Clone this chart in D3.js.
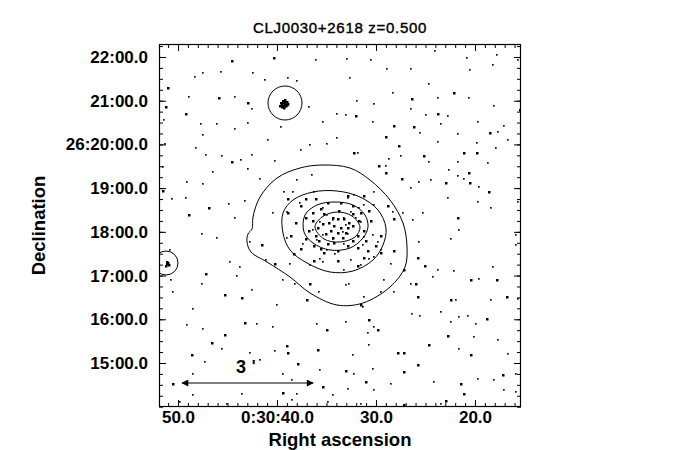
<!DOCTYPE html>
<html>
<head>
<meta charset="utf-8">
<script src="https://cdn.jsdelivr.net/npm/d3@7"></script>
<style>
  body { margin: 0; background: #fff; }
  text { font-family: "Liberation Sans", Arial, Helvetica, sans-serif; }
</style>
</head>
<body>
<div id="chart"></div>
<script>
// axis ticks: RA in seconds of 0h30m, Dec in arcmin of +26 deg
var raTicks = [50, 40, 30, 20];
var raTickLabels = ["50.0", "0:30:40.0", "30.0", "20.0"];
var decTicks = [22, 21, 20, 19, 18, 17, 16, 15];
var decTickLabels = ["22:00.0", "21:00.0", "26:20:00.0", "19:00.0", "18:00.0", "17:00.0", "16:00.0", "15:00.0"];
var raRange = [51.92, 15.35];
var decRange = [13.993, 22.297];

// photon image, in image pixels (362 x 363 grid)
var imageSize = [362, 363];
var photonsBright = [
  [72,16],[8,43],[6,62],[26,69],[59,53],[88,58],[49,163],[29,170],[3,146],[72,117],[114,13],
  [294,48],[252,54],[360,65],[196,71],[278,69],[234,81],[254,82],[226,92],[330,88],[239,101],
  [194,108],[264,111],[304,108],[317,108],[219,121],[226,128],[242,134],[309,128],[286,138],
  [310,138],[329,147],[298,173],
  [102,200],[115,219],[46,229],[65,250],[82,253],[150,239],[147,255],[85,278],[65,290],[167,285],
  [52,298],[127,301],[128,308],[32,310],[158,305],[138,319],[13,339],[163,342],[123,348],
  [234,206],[258,213],[265,221],[244,225],[311,235],[337,235],[256,239],[258,252],[291,255],
  [347,252],[201,260],[327,274],[209,275],[218,285],[288,291],[269,300],[238,308],[244,308],
  [311,310],[258,320],[186,326],[244,327],[343,330],[206,337],[301,339],[304,349],[286,356],[244,360]
];
// the two point sources (bright blobs)
var photonsSource = [
  [123,58],[125,59],[124,61],[127,57],[122,60],[126,61],[121,58],[123,56],[125,57],[127,60],
  [124,63],[122,62],[128,59],[120,61],[125,55],
  [7,219],[8,218],[6,221],[9,220],[7,217]
];
var photonsCore = [
  [181,158],[193,161],[161,164],[153,168],[173,173],[178,174],[184,174],[189,178],[169,178],
  [163,179],[158,183],[174,181],[181,183],[188,183],[193,181],[171,186],[178,188],[186,188],
  [166,189],[156,191],[149,186],[173,193],[183,193],[198,191],[204,186],[206,196],[159,196],
  [168,199],[146,194],[154,201],[188,201],[198,203],[178,206],[164,208],[141,204],[216,201],
  [221,191],[211,176],[201,168],[209,166],[168,158],[146,173],[136,178],[131,191],[134,209],
  [154,216],[204,213],[221,208],[178,216],[198,221],[128,154],[146,154],[204,151],[228,161],
  [234,174],[128,168],[141,161],[156,154],[188,151],[164,169],[193,169],[179,166],[199,176],
  [153,176],[174,198],[193,196],[161,204],[208,206]
];
var photonsFaint = [
  [156,15],[43,28],[61,27],[35,32],[93,28],[105,35],[128,33],[137,36],[29,52],[75,52],[92,64],
  [149,62],[177,69],[4,75],[41,79],[57,79],[88,78],[121,82],[163,77],[75,84],[43,90],[108,95],
  [5,99],[150,100],[167,99],[177,93],[36,103],[46,110],[92,110],[141,105],[62,111],[115,116],
  [81,115],[3,122],[53,127],[88,124],[100,134],[137,135],[152,130],[27,137],[43,139],[12,154],
  [26,153],[69,159],[85,156],[75,173],[124,147],[133,147],[154,147],[140,158],[163,163],
  [167,170],[173,175],[160,177],[113,168],[127,167],
  [275,6],[307,13],[337,10],[187,14],[211,15],[227,24],[251,24],[310,25],[333,20],[358,15],
  [190,33],[269,39],[233,48],[278,53],[309,53],[214,59],[197,56],[251,64],[334,61],[186,70],
  [266,70],[288,71],[213,77],[281,79],[318,77],[344,81],[260,88],[298,89],[338,87],[278,97],
  [317,98],[348,95],[198,108],[241,111],[336,103],[229,114],[269,117],[226,121],[298,117],
  [328,118],[271,135],[289,125],[298,131],[304,134],[259,137],[319,142],[214,147],[251,143],
  [288,153],[318,157],[331,163],[253,175],[263,168],[243,168],[358,157],[233,167],[214,160],
  [188,153],[194,150],[199,163],[191,167],[184,173],[204,160],[196,173],[186,180],[201,177],
  [42,189],[57,193],[90,197],[10,205],[70,217],[80,222],[106,215],[127,193],[160,214],[11,235],
  [77,231],[42,239],[13,247],[92,245],[123,235],[135,239],[159,247],[33,264],[117,260],[27,280],
  [43,284],[97,279],[113,282],[157,279],[62,304],[90,308],[115,306],[45,317],[100,315],
  [123,329],[160,325],[33,329],[132,335],[82,349],[132,355],[137,349],[173,350],[20,357],
  [33,350],[67,359],[168,357],[153,185],[163,190],[173,194],[157,195],[167,205],[143,199],
  [175,209],[163,217],[130,219],[150,220],
  [259,197],[291,194],[299,185],[356,190],[356,200],[278,225],[333,222],[294,226],[319,234],
  [273,232],[251,239],[296,255],[331,255],[358,254],[234,247],[299,272],[308,271],[316,279],
  [291,277],[260,271],[252,269],[281,267],[214,282],[208,288],[186,277],[314,292],[338,295],
  [299,304],[209,300],[348,309],[193,310],[194,329],[213,324],[356,329],[231,339],[274,337],
  [318,334],[334,335],[188,344],[214,345],[344,345],[356,347],[281,359],[201,359],[183,187],
  [188,189],[204,192],[213,190],[184,199],[203,200],[218,197],[221,205],[191,215],[209,214],
  [184,225],[201,220],[214,212],[186,240],[189,239],[204,252],[203,262],[224,235],[231,219],[221,247]
];

// smoothed surface-brightness contours around the cluster, image pixels
var contourOuter = [[164,121],[191,124],[211,136],[231,156],[244,179],[248,203],[246,223],[231,243],[204,259],[178,261],[151,249],[131,233],[108,218],[92,208],[88,198],[89,190],[93,185],[94,173],[101,153],[118,134],[141,124]];
var contourMid = [[124,169],[134,156],[154,148],[178,147],[201,153],[219,166],[227,184],[224,201],[214,216],[194,227],[171,228],[148,219],[131,206],[124,189]];
var contourInner = [[146,171],[158,161],[176,158],[194,161],[206,171],[209,183],[204,194],[191,204],[171,206],[154,199],[145,188]];
var contourCore = [[156,183],[163,173],[178,168],[193,172],[201,183],[196,193],[181,198],[165,195]];
var contours = [contourOuter, contourMid, contourInner, contourCore];

// point sources with their circles: [x, y, radius] in image pixels
var pointSources = [[126,59,17], [7,219,12]];

var scaleBarStart = [23, 339];
var scaleBarArcmin = 3;

var title = "CLJ0030+2618 z=0.500";

function draw() {
  var width = 680, height = 450;
  var fLeft = 159, fTop = 44, fRight = 521, fBottom = 407;

  var svg = d3.select("#chart").append("svg")
    .attr("width", width)
    .attr("height", height);

  var x = d3.scaleLinear().domain(raRange).range([fLeft, fRight]);
  var y = d3.scaleLinear().domain(decRange).range([fBottom, fTop]);
  var imgX = d3.scaleLinear().domain([0, imageSize[0]]).range([fLeft, fRight]);
  var imgY = d3.scaleLinear().domain([0, imageSize[1]]).range([fTop, fBottom]);

  var defs = svg.append("defs");
  defs.append("clipPath").attr("id", "frame")
    .append("rect")
    .attr("x", fLeft).attr("y", fTop)
    .attr("width", fRight - fLeft).attr("height", fBottom - fTop);

  var img = svg.append("g").attr("clip-path", "url(#frame)");

  img.selectAll("rect.faint")
    .data(photonsFaint)
    .enter().append("rect")
    .attr("class", "faint")
    .attr("x", function (d) { return imgX(d[0]); })
    .attr("y", function (d) { return imgY(d[1]); })
    .attr("width", 1.7).attr("height", 1.7)
    .attr("fill", "#111");

  img.selectAll("rect.bright")
    .data(photonsBright.concat(photonsCore, photonsSource))
    .enter().append("rect")
    .attr("class", "bright")
    .attr("x", function (d) { return imgX(d[0]); })
    .attr("y", function (d) { return imgY(d[1]); })
    .attr("width", 2.5).attr("height", 2.5)
    .attr("fill", "#000");

  var line = d3.line()
    .x(function (d) { return imgX(d[0]); })
    .y(function (d) { return imgY(d[1]); })
    .curve(d3.curveCatmullRomClosed);

  img.selectAll("path.contour")
    .data(contours)
    .enter().append("path")
    .attr("class", "contour")
    .attr("d", line)
    .attr("fill", "none")
    .attr("stroke", "#000")
    .attr("stroke-width", 1);

  img.selectAll("circle.src")
    .data(pointSources)
    .enter().append("circle")
    .attr("class", "src")
    .attr("cx", function (d) { return imgX(d[0]); })
    .attr("cy", function (d) { return imgY(d[1]); })
    .attr("r", function (d) { return imgX(d[2]) - imgX(0); })
    .attr("fill", "none")
    .attr("stroke", "#000")
    .attr("stroke-width", 1);

  // scale bar, 3 arcmin long
  var pxPerArcmin = Math.abs(y(1) - y(0));
  var bx0 = imgX(scaleBarStart[0]), by = imgY(scaleBarStart[1]);
  var bx1 = bx0 + scaleBarArcmin * pxPerArcmin;
  var bxm = (bx0 + bx1) / 2;

  defs.append("marker")
    .attr("id", "arrow")
    .attr("viewBox", "0 0 10 10")
    .attr("refX", 9).attr("refY", 5)
    .attr("markerWidth", 9).attr("markerHeight", 7)
    .attr("markerUnits", "userSpaceOnUse")
    .attr("orient", "auto-start-reverse")
    .append("path")
    .attr("d", "M0,0 L10,5 L0,10 Z")
    .attr("fill", "#000");

  svg.append("line")
    .attr("x1", bx0).attr("x2", bx1)
    .attr("y1", by).attr("y2", by)
    .attr("stroke", "#000").attr("stroke-width", 1.2)
    .attr("marker-start", "url(#arrow)")
    .attr("marker-end", "url(#arrow)");

  svg.append("text")
    .attr("x", bxm - 6.5)
    .attr("y", by - 10)
    .attr("text-anchor", "middle")
    .style("font-size", "18px")
    .style("font-weight", "bold")
    .text(scaleBarArcmin);

  svg.append("text")
    .attr("x", bxm + 6)
    .attr("y", by - 11)
    .attr("text-anchor", "middle")
    .style("font-size", "16px")
    .style("font-weight", "bold")
    .text("'");

  // axes, ticks inward on all four sides
  function styleAxis(g) {
    g.select(".domain").remove();
    g.selectAll(".tick line").attr("stroke", "#000");
    g.selectAll(".tick text")
      .attr("fill", "#000")
      .style("font-size", "17px")
      .style("font-weight", "bold")
      .style("font-family", "'Liberation Sans', Arial, sans-serif");
  }

  var raMinor = d3.range(16, 52, 1);
  var decMinor = d3.range(14, 22.3, 0.25);

  svg.append("g").attr("transform", "translate(0," + fBottom + ")")
    .call(d3.axisBottom(x).tickValues(raMinor).tickFormat("").tickSize(-4)).call(styleAxis);
  svg.append("g").attr("transform", "translate(0," + fTop + ")")
    .call(d3.axisTop(x).tickValues(raMinor).tickFormat("").tickSize(-4)).call(styleAxis);
  svg.append("g").attr("transform", "translate(" + fLeft + ",0)")
    .call(d3.axisLeft(y).tickValues(decMinor).tickFormat("").tickSize(-4)).call(styleAxis);
  svg.append("g").attr("transform", "translate(" + fRight + ",0)")
    .call(d3.axisRight(y).tickValues(decMinor).tickFormat("").tickSize(-4)).call(styleAxis);

  svg.append("g").attr("transform", "translate(0," + fBottom + ")")
    .call(d3.axisBottom(x).tickValues(raTicks)
      .tickFormat(function (d, i) { return raTickLabels[i]; })
      .tickSize(-7).tickPadding(4))
    .call(styleAxis);
  svg.append("g").attr("transform", "translate(0," + fTop + ")")
    .call(d3.axisTop(x).tickValues(raTicks).tickFormat("").tickSize(-7)).call(styleAxis);
  svg.append("g").attr("transform", "translate(" + fLeft + ",0)")
    .call(d3.axisLeft(y).tickValues(decTicks)
      .tickFormat(function (d, i) { return decTickLabels[i]; })
      .tickSize(-7).tickPadding(11))
    .call(styleAxis);
  svg.append("g").attr("transform", "translate(" + fRight + ",0)")
    .call(d3.axisRight(y).tickValues(decTicks).tickFormat("").tickSize(-7)).call(styleAxis);

  svg.append("rect")
    .attr("x", fLeft + 0.5).attr("y", fTop + 0.5)
    .attr("width", fRight - fLeft - 1).attr("height", fBottom - fTop - 1)
    .attr("fill", "none")
    .attr("stroke", "#000")
    .attr("stroke-width", 1.2);

  svg.append("text")
    .attr("x", 340).attr("y", 33)
    .attr("text-anchor", "middle")
    .style("font-size", "15px")
    .style("letter-spacing", "0.7px")
    .style("stroke", "#000")
    .style("stroke-width", 0.4)
    .text(title);

  svg.append("text")
    .attr("x", (fLeft + fRight) / 2).attr("y", 446)
    .attr("text-anchor", "middle")
    .style("font-size", "18.5px")
    .style("font-weight", "bold")
    .text("Right ascension");

  svg.append("text")
    .attr("transform", "translate(45," + ((fTop + fBottom) / 2) + ") rotate(-90)")
    .attr("text-anchor", "middle")
    .style("font-size", "18.5px")
    .style("font-weight", "bold")
    .text("Declination");
}
draw();
</script>
</body>
</html>
